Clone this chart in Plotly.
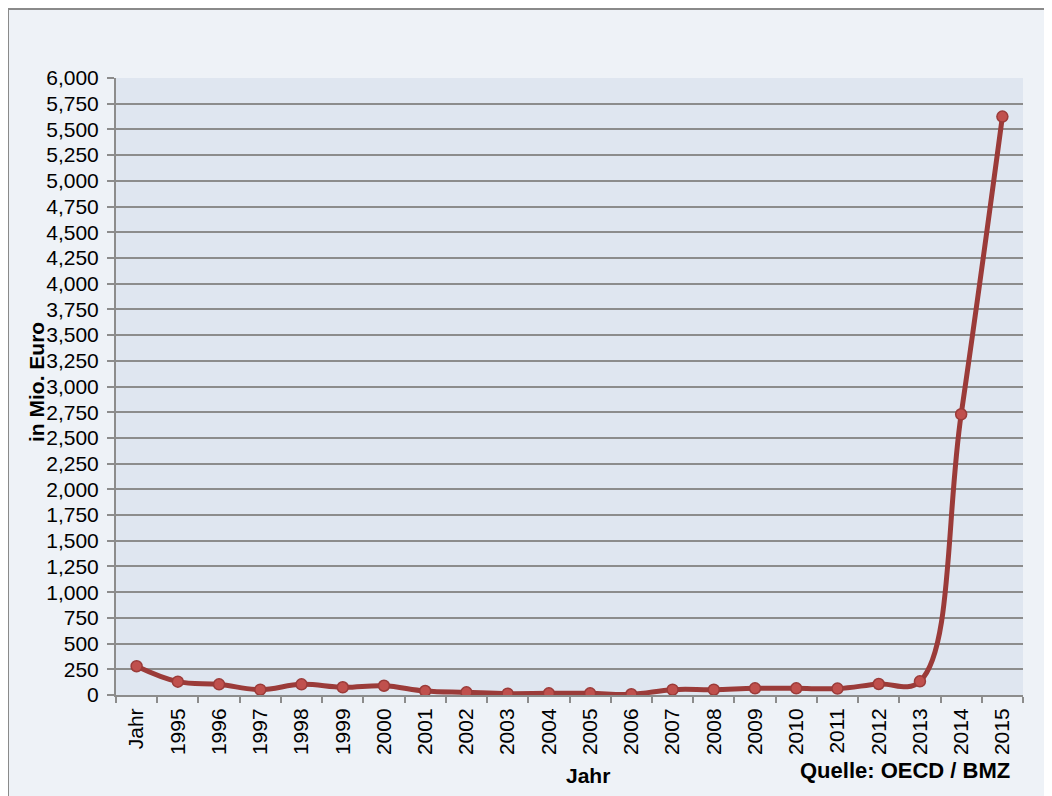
import plotly.graph_objects as go

categories = ["Jahr", "1995", "1996", "1997", "1998", "1999", "2000", "2001", "2002",
              "2003", "2004", "2005", "2006", "2007", "2008", "2009", "2010", "2011",
              "2012", "2013", "2014", "2015"]
values = [280, 130, 104, 52, 104, 75, 90, 39, 26, 13, 16, 16, 7, 52, 52, 65, 65, 62,
          107, 133, 2730, 5625]
y_ticks = list(range(0, 6001, 250))
y_ticklabels = [f"{v:,}" for v in y_ticks]

# the page body adds an 8px offset; work in screenshot coordinates
OFF = 8
W, H = 1052 - OFF, 796 - OFF
L = 116 - OFF
T = 78 - OFF
B = H - (695 - OFF)
R = W - (1023 - OFF)
pw, ph = W - L - R, H - T - B

def px(x):
    return (x - OFF - L) / pw

def py(y):
    return (H - B - (y - OFF)) / ph

fig = go.Figure()
fig.add_trace(go.Scatter(
    x=categories, y=values, mode="lines+markers",
    line=dict(color="#9b3b39", width=5, shape="spline", smoothing=1.1),
    marker=dict(size=11, color="#c0504d", line=dict(color="#9b3b39", width=1.5)),
    showlegend=False, hoverinfo="x+y",
))

FONT = "Liberation Sans, Arial, sans-serif"
fig.update_layout(
    width=W, height=H,
    margin=dict(l=L, r=R, t=T, b=B),
    paper_bgcolor="#eef2f7",
    plot_bgcolor="#dfe6f0",
    font=dict(family=FONT, color="#000000"),
    xaxis=dict(
        type="category", tickangle=-90, tickfont=dict(size=21),
        ticks="outside", tickson="boundaries", ticklen=6, tickcolor="#8c8c8c",
        tickwidth=2, ticklabelstandoff=3,
        showline=True, linecolor="#8c8c8c", linewidth=2, showgrid=False,
        range=[-0.5, len(categories) - 0.5],
    ),
    yaxis=dict(
        range=[0, 6000], tickvals=y_ticks, ticktext=y_ticklabels,
        tickfont=dict(size=21), ticks="outside", ticklen=7, tickcolor="#8c8c8c",
        tickwidth=2, ticklabelstandoff=4,
        showline=True, linecolor="#8c8c8c", linewidth=2,
        showgrid=True, gridcolor="#8c8c8c", gridwidth=2, zeroline=False,
    ),
    shapes=[dict(type="rect", xref="paper", yref="paper",
                 x0=px(8), x1=px(1070), y0=py(9), y1=py(820),
                 line=dict(color="#8a8a8a", width=2), fillcolor="rgba(0,0,0,0)",
                 layer="below")],
    annotations=[
        dict(text="<b>in Mio. Euro</b>", xref="paper", yref="paper",
             x=px(36), y=py(382), textangle=-90, showarrow=False,
             font=dict(size=21), xanchor="center", yanchor="middle"),
        dict(text="<b>Jahr</b>", xref="paper", yref="paper",
             x=px(588), y=py(775), showarrow=False,
             font=dict(size=21), xanchor="center", yanchor="middle"),
        dict(text="<b>Quelle: OECD / BMZ</b>", xref="paper", yref="paper",
             x=px(905), y=py(770), showarrow=False,
             font=dict(size=22), xanchor="center", yanchor="middle"),
    ],
)

fig.write_html("out.html")
